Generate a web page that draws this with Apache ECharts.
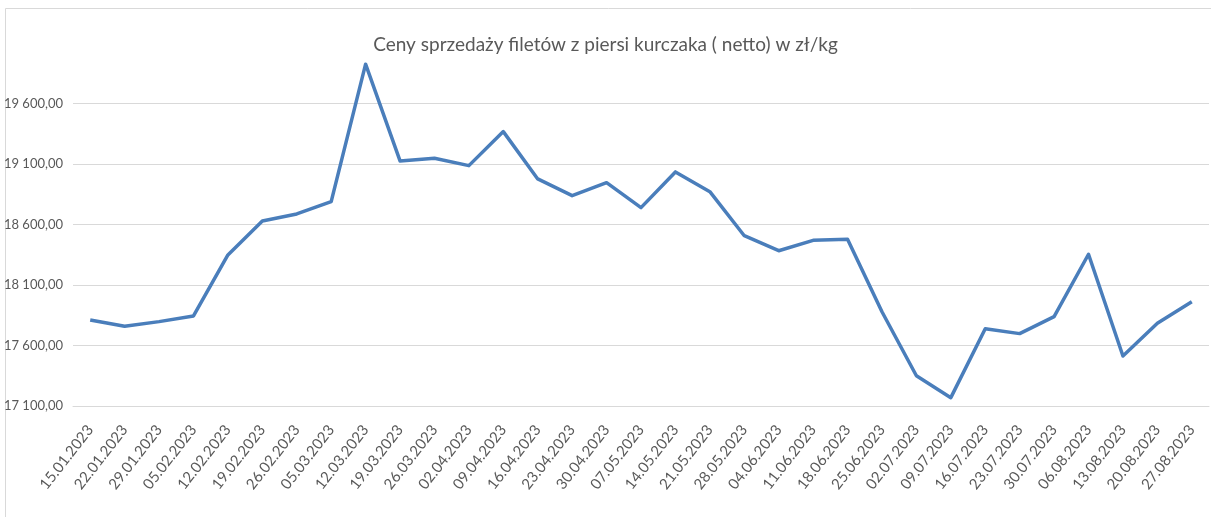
<!DOCTYPE html>
<html>
<head>
<meta charset="utf-8">
<script src="https://cdn.jsdelivr.net/npm/echarts@6/dist/echarts.min.js"></script>
<style>
  html, body { margin: 0; padding: 0; background: #fff; }
  #chart { width: 1211px; height: 517px; }
</style>
</head>
<body>
<div id="chart"></div>
<script>
  const titleText = 'Ceny sprzedaży filetów z piersi kurczaka ( netto) w zł/kg'
  const dates = [
    '15.01.2023', '22.01.2023', '29.01.2023', '05.02.2023', '12.02.2023', '19.02.2023',
    '26.02.2023', '05.03.2023', '12.03.2023', '19.03.2023', '26.03.2023', '02.04.2023',
    '09.04.2023', '16.04.2023', '23.04.2023', '30.04.2023', '07.05.2023', '14.05.2023',
    '21.05.2023', '28.05.2023', '04.06.2023', '11.06.2023', '18.06.2023', '25.06.2023',
    '02.07.2023', '09.07.2023', '16.07.2023', '23.07.2023', '30.07.2023', '06.08.2023',
    '13.08.2023', '20.08.2023', '27.08.2023'
  ]
  const prices = [
    17811, 17759, 17797, 17844, 18348, 18629,
    18687, 18788, 19924, 19125, 19147, 19086,
    19367, 18976, 18838, 18945, 18739, 19034,
    18871, 18507, 18383, 18469, 18478, 17879,
    17350, 17169, 17739, 17698, 17838, 18354,
    17513, 17783, 17962
  ]
  const yMin = 17100
  const yMax = 20000
  const yStep = 500

  // 19600 -> "19 600,00"
  function fmtPl (v) {
    const parts = v.toFixed(2).split('.')
    return parts[0].replace(/\B(?=(\d{3})+(?!\d))/g, ' ') + ',' + parts[1]
  }

  const chart = echarts.init(document.getElementById('chart'))
  chart.setOption({
    animation: false,
    textStyle: { fontFamily: 'Lato' },
    title: {
      text: titleText,
      left: 'center',
      top: 30,
      textStyle: { fontFamily: 'Lato', fontSize: 19, fontWeight: 'normal', color: '#595959' }
    },
    graphic: [{
      type: 'rect',
      shape: { x: 5.5, y: 8.5, width: 1230, height: 530 },
      style: { fill: 'none', stroke: '#d9d9d9', lineWidth: 1 },
      silent: true
    }],
    grid: { left: 73, right: 2, top: 55, bottom: 111 },
    xAxis: {
      type: 'category',
      data: dates,
      boundaryGap: true,
      axisLine: { show: true, lineStyle: { color: '#d9d9d9' } },
      axisTick: { show: false },
      axisLabel: {
        interval: 0,
        rotate: 52,
        margin: 21,
        fontSize: 15,
        color: '#595959'
      }
    },
    yAxis: {
      type: 'value',
      min: yMin,
      max: yMax,
      interval: yStep,
      axisLine: { show: false },
      axisTick: { show: false },
      splitLine: { showMaxLine: false, lineStyle: { color: '#d9d9d9', width: 1 } },
      axisLabel: {
        showMaxLabel: false,
        fontSize: 13,
        color: '#595959',
        margin: 10,
        formatter: fmtPl
      }
    },
    series: [{
      type: 'line',
      data: prices,
      symbol: 'none',
      lineStyle: { color: '#4a7ebb', width: 3.5, join: 'round' }
    }]
  })
  window.addEventListener('resize', function () {
    chart.resize()
  })
</script>
</body>
</html>
